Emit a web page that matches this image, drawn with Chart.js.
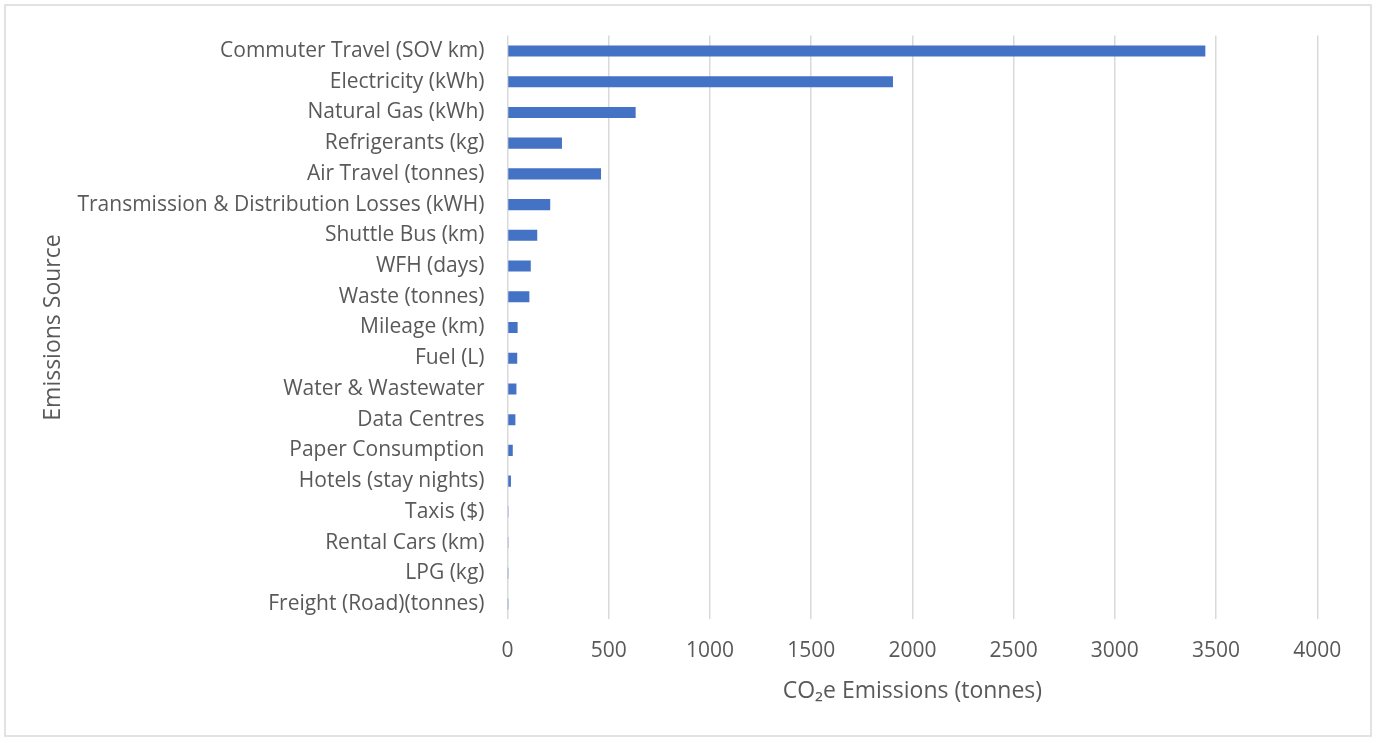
<!DOCTYPE html>
<html>
<head>
<meta charset="utf-8">
<script src="https://cdn.jsdelivr.net/npm/chart.js@4"></script>
<style>
  html, body { margin: 0; padding: 0; background: #fff; }
  #wrap { position: relative; width: 1373px; height: 738px; }
</style>
</head>
<body>
<div id="wrap"><canvas id="myChart" width="1373" height="738"></canvas></div>
<script>
// emission sources, largest first (top of the chart)
var sources = [
  'Commuter Travel (SOV km)',
  'Electricity (kWh)',
  'Natural Gas (kWh)',
  'Refrigerants (kg)',
  'Air Travel (tonnes)',
  'Transmission & Distribution Losses (kWH)',
  'Shuttle Bus (km)',
  'WFH (days)',
  'Waste (tonnes)',
  'Mileage (km)',
  'Fuel (L)',
  'Water & Wastewater',
  'Data Centres',
  'Paper Consumption',
  'Hotels (stay nights)',
  'Taxis ($)',
  'Rental Cars (km)',
  'LPG (kg)',
  'Freight (Road)(tonnes)'
];
// tonnes CO2e per source
var emissions = [3447, 1904, 633, 269, 462, 211, 147, 115, 108, 50, 48, 44, 39, 26, 17, 2, 2, 1, 1];

var xMin = 0, xMax = 4000, xStep = 500;

var txt = '#595959';
var tickFont = { family: '"Open Sans", sans-serif', size: 21 };
var titleFont = { family: '"Open Sans", sans-serif', size: 23 };

// light grey frame round the whole chart
var framePlugin = {
  id: 'frame',
  beforeDraw: function(chart) {
    var c = chart.ctx;
    c.save();
    c.fillStyle = '#fff';
    c.fillRect(0, 0, chart.width, chart.height);
    c.strokeStyle = '#d9d9d9';
    c.lineWidth = 1.5;
    c.strokeRect(5, 5, 1366, 731);
    c.restore();
  }
};

var ctx = document.getElementById('myChart').getContext('2d');
var chart = new Chart(ctx, {
  type: 'bar',
  data: {
    labels: sources,
    datasets: [{
      label: 'CO2e',
      data: emissions,
      backgroundColor: '#4472C4',
      borderWidth: 0,
      barPercentage: 0.36,
      categoryPercentage: 1
    }]
  },
  options: {
    indexAxis: 'y',
    responsive: false,
    animation: false,
    layout: { padding: { top: 33.6, right: 55.7, bottom: 0, left: 0 } },
    plugins: {
      legend: { display: false },
      tooltip: { enabled: false }
    },
    scales: {
      x: {
        min: xMin,
        max: xMax,
        ticks: {
          stepSize: xStep, color: txt, font: tickFont, padding: 19, maxRotation: 0,
          callback: function(v) { return String(v); }
        },
        grid: { color: '#d9d9d9', lineWidth: 1.5, drawTicks: false },
        border: { display: false },
        title: {
          display: true,
          text: 'CO\u2082e Emissions (tonnes)',
          color: txt,
          font: titleFont,
          padding: { top: 0, bottom: 33 }
        },
        afterFit: function(scale) { scale.height = 118.6; }
      },
      y: {
        ticks: { color: txt, font: tickFont, padding: 23, autoSkip: false },
        grid: { display: false, drawTicks: false },
        border: { display: false },
        title: {
          display: true,
          text: 'Emissions Source',
          color: txt,
          font: titleFont,
          padding: { top: 40, bottom: 0 }
        },
        afterFit: function(scale) { scale.width = 507.5; }
      }
    }
  },
  plugins: [framePlugin]
});
</script>
</body>
</html>
